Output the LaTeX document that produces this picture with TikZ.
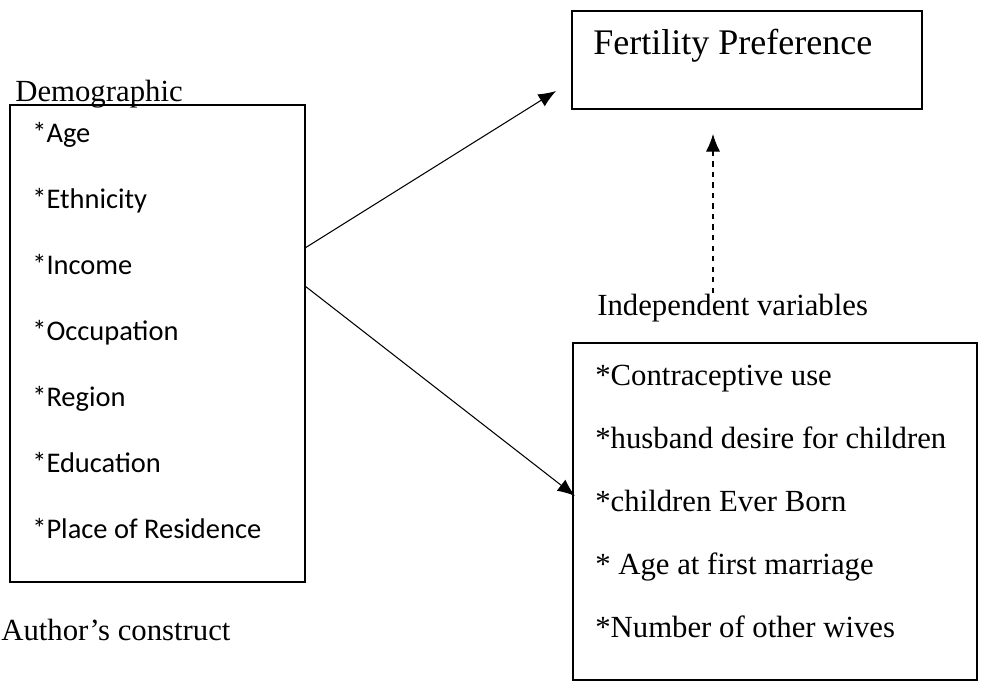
\documentclass[tikz,border=0pt]{standalone}
\usepackage{fontspec}
\setmainfont{Liberation Serif}
\newfontfamily\itemfont{Carlito}
\usetikzlibrary{arrows.meta, positioning}

\begin{document}
\begin{tikzpicture}[x=0.02cm, y=-0.02cm,
 frame/.style={draw, line width=0.6pt},
 label/.style={font=\fontsize{17.5}{20}\selectfont, anchor=base west, inner sep=0pt},
 demoitem/.style={font=\itemfont\fontsize{16.2}{19}\selectfont, anchor=base west, inner sep=0pt},
 indepitem/.style={font=\fontsize{17.5}{20}\selectfont, anchor=base west, inner sep=0pt},
 link/.style={draw, line width=0.6pt, -{Latex[length=10pt,width=8pt]}}]
 \useasboundingbox (0,0) rectangle (981,698);
 % boxes
 \draw[frame] (10,105) rectangle (305,582);
 \draw[frame] (572,11) rectangle (922,109);
 \draw[frame] (573,343) rectangle (977,680);
 % headings
 \node[label] (demo) at (15,101){Demographic};
 \node[font=\fontsize{20.5}{24}\selectfont, anchor=base west, inner sep=0pt] (fert) at (593,54){Fertility Preference};
 \node[label] (indep) at (597,315){Independent variables};
 \node[label] (author) at (1,640){Author’s construct};
 % demographic list
 \node[demoitem] (age) at (32,142){*Age};
 \node[demoitem] (ethnic) at (32,208){*Ethnicity};
 \node[demoitem] (income) at (32,274){*Income};
 \node[demoitem] (occup) at (32,340){*Occupation};
 \node[demoitem] (region) at (32,406){*Region};
 \node[demoitem] (educ) at (32,472){*Education};
 \node[demoitem] (resid) at (32,538){*Place of Residence};
 % independent list
 \node[indepitem] (contra) at (595,385){*Contraceptive use};
 \node[indepitem] (husband) at (595,448){*husband desire for children};
 \node[indepitem] (ceb) at (595,511){*children Ever Born};
 \node[indepitem] (marriage) at (595,574){* Age at first marriage};
 \node[indepitem] (wives) at (595,637){*Number of other wives};
 % arrows
 \coordinate (demoup) at (305,248);
 \coordinate (demodown) at (305,286);
 \coordinate (fertin) at (556,91);
 \coordinate (indepin) at (575,496);
 \coordinate (indeptop) at (713,293);
 \coordinate (fertbottom) at (713,134);
 \draw[link] (demoup) -- (fertin);
 \draw[link] (demodown) -- (indepin);
 \draw[link, dashed] (indeptop) -- (fertbottom);
\end{tikzpicture}
\end{document}
